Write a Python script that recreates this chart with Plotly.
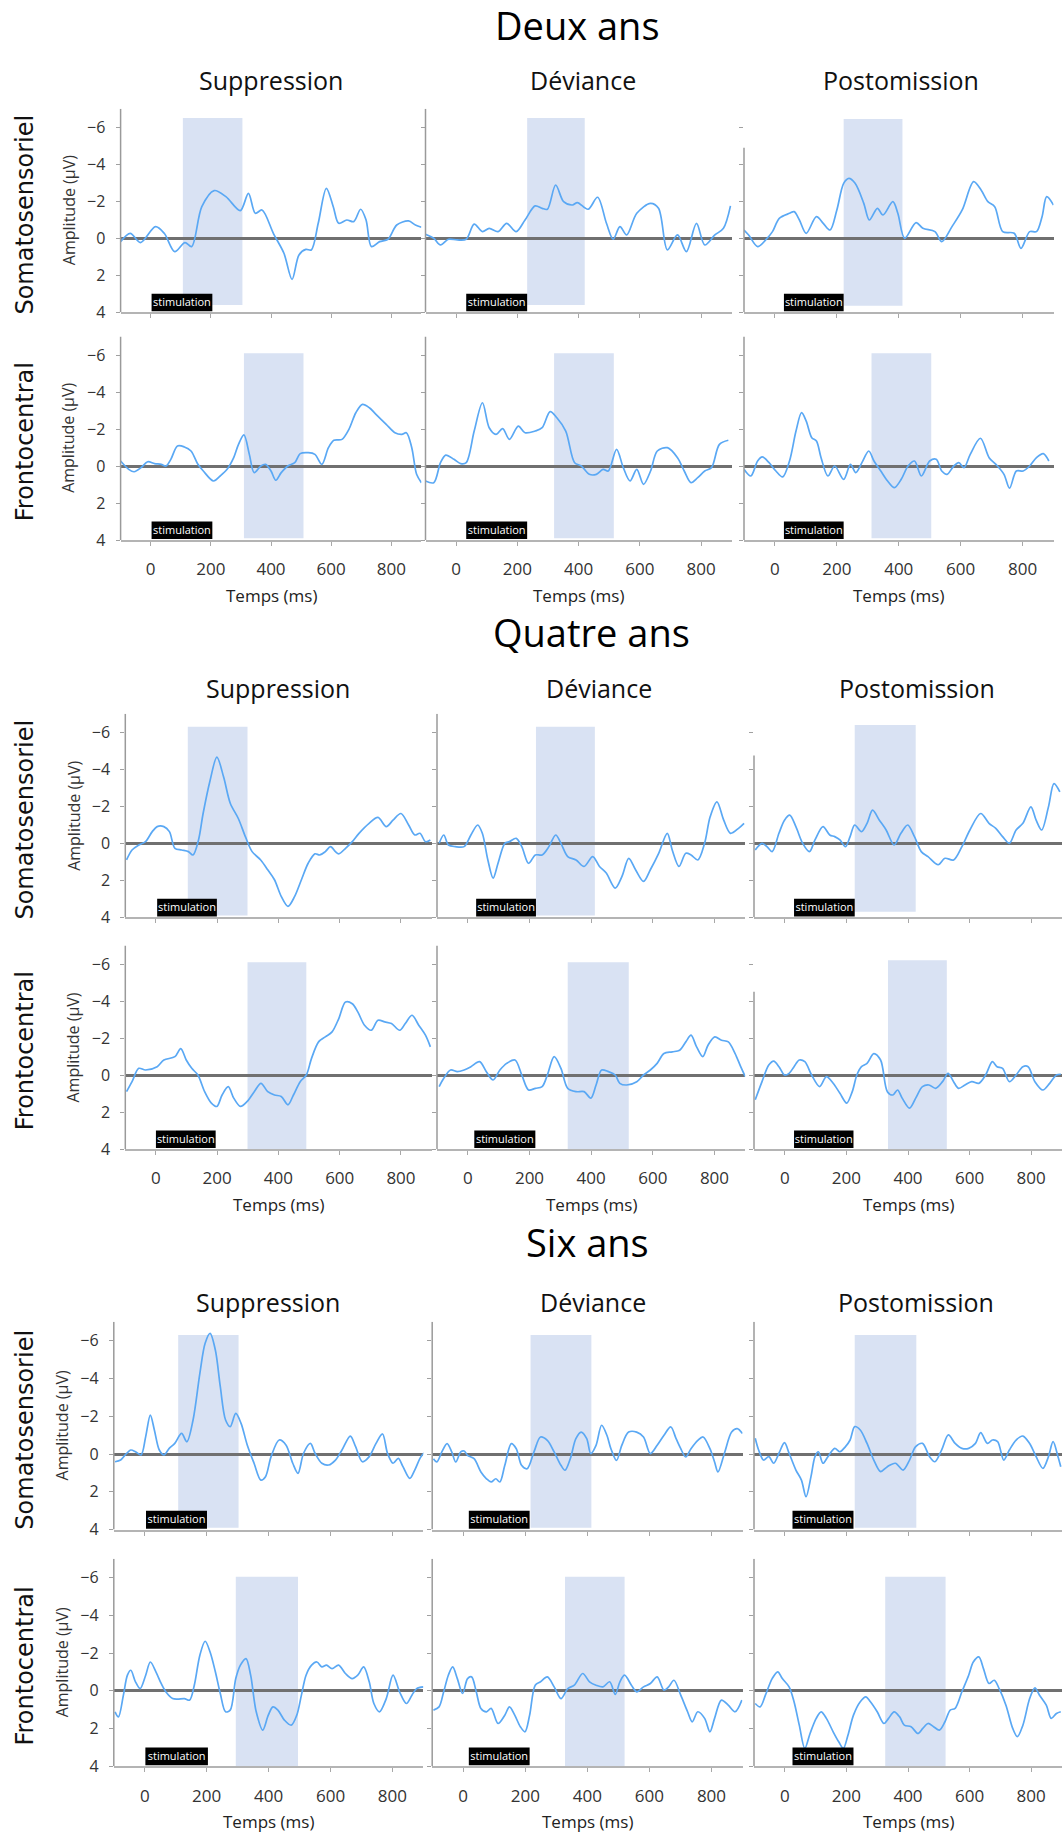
import plotly.graph_objects as go

W, H = 1062, 1832

ages = ["Deux ans", "Quatre ans", "Six ans"]
conditions = ["Suppression", "Déviance", "Postomission"]
regions = ["Somatosensoriel", "Frontocentral"]
x_ticks = [0, 200, 400, 600, 800]
y_ticks = [-6, -4, -2, 0, 2, 4]
stim_label = "stimulation"
x_title = "Temps (ms)"
y_title = "Amplitude (µV)"

# ---------------- Deux ans ----------------
t_2_soma_sup = [-100, -68, -34, 16, 45, 80, 114, 136, 170, 211, 250, 298, 325, 348, 370, 409, 443, 470, 493, 516, 534, 557, 584, 607, 625, 652, 675, 698, 716, 734, 761, 789, 818, 857, 880, 900]
v_2_soma_sup = [0.18, -0.27, 0.23, -0.63, -0.27, 0.72, 0.23, 0.45, -1.71, -2.58, -2.25, -1.5, -2.43, -1.35, -1.53, -0.23, 0.81, 2.22, 0.9, 0.6, 0.63, -0.81, -2.7, -1.71, -0.81, -0.99, -0.9, -1.57, -0.99, 0.45, 0.18, 0.05, -0.72, -0.94, -0.72, -0.6]
t_2_soma_dev = [-100, -73, -51, -25, 4, 33, 59, 86, 108, 137, 165, 196, 225, 258, 281, 298, 325, 351, 380, 396, 431, 462, 491, 513, 535, 557, 590, 635, 661, 690, 723, 752, 785, 812, 845, 873, 896]
v_2_soma_dev = [-0.22, 0, 0.36, 0.05, 0.09, 0.05, -0.77, -0.36, -0.54, -0.36, -0.81, -0.36, -0.99, -1.75, -1.62, -1.57, -2.88, -1.98, -1.8, -1.93, -1.57, -2.22, -0.81, 0.05, -0.63, -0.18, -1.35, -1.89, -1.62, 0.63, -0.18, 0.72, -0.81, 0.36, -0.18, -0.54, -1.75]
t_2_soma_post = [-100, -85, -56, -30, -8, 14, 47, 62, 79, 101, 134, 156, 178, 200, 222, 239, 259, 287, 305, 331, 349, 381, 397, 419, 456, 478, 517, 539, 572, 605, 642, 666, 688, 710, 736, 773, 795, 823, 845, 863, 878, 900]
v_2_soma_post = [-0.45, -0.18, 0.45, 0.09, -0.36, -1.08, -1.35, -1.44, -0.99, -0.27, -1.17, -0.81, -0.45, -1.53, -2.97, -3.24, -2.97, -1.89, -0.99, -1.62, -1.26, -1.98, -1.35, 0, -0.85, -0.54, -0.36, 0.18, -0.63, -1.53, -3.06, -2.61, -1.98, -1.71, -0.36, -0.27, 0.54, -0.36, -0.36, -1.17, -2.25, -1.8]
t_2_fronto_sup = [-100, -73, -55, -32, -10, 13, 35, 51, 67, 89, 112, 134, 157, 175, 209, 231, 254, 276, 292, 310, 328, 344, 366, 382, 400, 416, 434, 456, 479, 497, 524, 546, 569, 591, 609, 636, 659, 682, 704, 727, 749, 783, 812, 835, 850, 868, 884, 900]
v_2_fronto_sup = [-0.27, 0.18, 0.31, 0.09, -0.23, -0.13, -0.09, 0, -0.36, -1.08, -1.03, -0.81, -0.09, 0.27, 0.81, 0.54, 0.18, -0.45, -1.17, -1.68, -0.63, 0.36, 0, -0.09, 0.27, 0.77, 0.36, 0, -0.18, -0.67, -0.72, -0.63, -0.09, -0.99, -1.39, -1.44, -1.98, -2.88, -3.33, -3.15, -2.79, -2.25, -1.8, -1.71, -1.8, -0.99, 0.45, 0.9]
t_2_fronto_dev = [-100, -73, -51, -34, -7, 15, 33, 59, 86, 108, 130, 152, 174, 203, 225, 258, 281, 307, 329, 358, 387, 409, 435, 458, 480, 497, 524, 546, 568, 590, 612, 635, 657, 690, 723, 745, 767, 789, 812, 834, 860, 889]
v_2_fronto_dev = [0.81, 0.9, -0.18, -0.59, -0.36, -0.13, -0.18, -1.89, -3.42, -2.07, -1.71, -2.02, -1.44, -2.16, -1.8, -1.89, -2.07, -2.94, -2.61, -1.89, -0.18, 0, 0.45, 0.45, 0.18, 0.27, -0.9, 0.09, 0.81, 0.18, 0.99, 0.27, -0.81, -0.99, -0.45, 0.27, 0.9, 0.63, 0.27, 0.09, -1.17, -1.39]
t_2_fronto_post = [-100, -78, -56, -41, -19, 3, 25, 47, 68, 86, 101, 119, 134, 149, 171, 193, 222, 244, 261, 281, 303, 320, 342, 364, 386, 408, 430, 451, 473, 500, 521, 539, 556, 578, 594, 611, 631, 664, 692, 714, 740, 758, 780, 802, 823, 845, 867, 885]
v_2_fronto_post = [0.18, 0.54, -0.27, -0.49, -0.18, 0.27, 0.59, -0.27, -1.89, -2.88, -2.43, -1.53, -1.35, -0.45, 0.54, 0, 0.72, -0.09, 0.36, -0.18, -0.81, -0.27, 0.27, 0.81, 1.17, 0.72, 0, -0.27, 0.54, -0.27, -0.36, 0.27, 0.45, 0, -0.18, 0.09, -0.63, -1.5, -0.45, -0.09, 0.45, 1.2, 0.27, 0.27, 0, -0.45, -0.67, -0.27]

# ---------------- Quatre ans ----------------
t_4_soma_sup = [-96, -78, -56, -34, -12, 4, 26, 44, 62, 84, 106, 121, 139, 154, 177, 199, 221, 243, 269, 292, 314, 342, 365, 387, 409, 431, 453, 475, 497, 519, 535, 553, 570, 586, 597, 619, 641, 663, 696, 725, 752, 774, 800, 825, 845, 862, 880, 896]
v_4_soma_sup = [0.9, 0.36, 0.09, -0.09, -0.63, -0.9, -0.9, -0.63, 0.27, 0.36, 0.45, 0.63, -0.18, -1.61, -3.41, -4.66, -3.58, -2.15, -1.34, -0.36, 0.45, 0.9, 1.43, 1.97, 2.87, 3.41, 2.87, 1.97, 1.08, 0.57, 0.63, 0.45, 0.18, 0.45, 0.57, 0.27, -0.09, -0.54, -1.08, -1.4, -0.9, -1.25, -1.61, -0.99, -0.45, -0.54, -0.09, -0.18]
t_4_soma_dev = [-93, -78, -63, -41, -12, 10, 32, 47, 65, 82, 98, 120, 135, 157, 175, 197, 219, 241, 263, 285, 302, 324, 351, 377, 405, 427, 449, 478, 500, 522, 544, 570, 592, 619, 647, 663, 685, 707, 724, 746, 768, 786, 808, 830, 852, 878, 896]
v_4_soma_dev = [0, -0.45, 0.09, 0.18, 0.18, -0.45, -0.99, -0.54, 0.9, 1.88, 1.08, 0, -0.09, -0.27, 0.18, 1.08, 0.63, 0.63, 0.18, -0.45, 0, 0.72, 0.9, 1.25, 0.72, 1.25, 1.61, 2.42, 1.79, 0.81, 1.43, 2.06, 1.43, 0.54, -0.54, 0.36, 1.25, 0.54, 0.63, 0.9, 0, -1.43, -2.24, -1.25, -0.54, -0.81, -1.08]
t_4_soma_post = [-96, -74, -58, -41, -19, -1, 16, 36, 58, 80, 98, 124, 146, 162, 179, 197, 212, 227, 249, 267, 285, 307, 329, 355, 377, 399, 421, 443, 465, 498, 520, 548, 575, 601, 636, 663, 685, 707, 729, 751, 773, 799, 816, 834, 856, 874, 893]
v_4_soma_post = [0.36, 0, 0.18, 0.45, -0.54, -1.25, -1.52, -0.9, 0, 0.45, -0.18, -0.9, -0.45, -0.36, -0.18, 0.18, -0.36, -0.99, -0.63, -1.08, -1.79, -1.25, -0.72, 0.09, -0.54, -0.99, -0.36, 0.45, 0.72, 1.16, 0.81, 0.9, 0.18, -0.72, -1.61, -1.08, -0.81, -0.36, 0, -0.72, -1.08, -1.97, -1.25, -0.72, -1.97, -3.23, -2.78]
t_4_fronto_sup = [-96, -78, -56, -34, 4, 26, 62, 81, 99, 117, 137, 159, 181, 199, 216, 236, 254, 276, 298, 321, 343, 365, 387, 409, 431, 449, 471, 491, 508, 531, 553, 575, 597, 619, 641, 659, 681, 703, 725, 747, 769, 796, 814, 836, 858, 880, 896]
v_4_fronto_sup = [0.9, 0.36, -0.36, -0.27, -0.45, -0.81, -0.99, -1.43, -0.81, -0.36, 0, 0.9, 1.52, 1.7, 1.08, 0.63, 1.25, 1.7, 1.43, 0.9, 0.45, 0.9, 1.08, 1.16, 1.61, 1.08, 0.36, 0, -0.9, -1.79, -2.06, -2.33, -3.05, -3.94, -3.85, -3.41, -2.69, -2.42, -2.96, -2.87, -2.78, -2.42, -2.78, -3.23, -2.69, -2.15, -1.52]
t_4_fronto_dev = [-93, -78, -56, -34, -12, 10, 38, 60, 82, 104, 126, 153, 175, 197, 219, 241, 258, 280, 302, 324, 351, 377, 399, 416, 434, 456, 478, 493, 515, 548, 570, 592, 614, 636, 663, 687, 707, 724, 742, 762, 779, 801, 823, 845, 867, 885, 900]
v_4_fronto_dev = [0.63, 0.18, -0.27, -0.18, -0.27, -0.45, -0.72, -0.18, 0.27, -0.27, -0.63, -0.81, 0, 0.81, 0.72, 0.63, 0, -0.99, -0.36, 0.72, 0.9, 0.9, 1.25, 0.54, -0.27, -0.18, 0, 0.45, 0.54, 0.36, 0, -0.27, -0.63, -1.16, -1.25, -1.34, -1.79, -2.15, -1.52, -0.99, -1.61, -2.06, -1.88, -1.79, -1.16, -0.45, 0.09]
t_4_fronto_post = [-96, -74, -52, -36, -19, -1, 14, 30, 47, 65, 87, 113, 135, 157, 179, 201, 219, 234, 249, 267, 289, 311, 333, 351, 366, 381, 405, 425, 447, 468, 490, 512, 530, 548, 564, 585, 607, 630, 652, 674, 689, 707, 729, 751, 773, 790, 812, 838, 860, 882, 896]
v_4_fronto_post = [1.34, 0.36, -0.54, -0.75, -0.45, 0, -0.09, -0.45, -0.81, -0.72, 0, 0.63, 0.09, 0.45, 0.99, 1.52, 0.9, 0, -0.45, -0.63, -1.16, -0.81, 0.9, 1.08, 0.81, 1.25, 1.79, 1.25, 0.63, 0.54, 0.72, 0.36, -0.09, 0.36, 0.72, 0.54, 0.36, 0.45, 0, -0.72, -0.45, -0.36, 0.36, 0, -0.45, -0.45, 0.36, 0.81, 0.45, 0, -0.04]

# ---------------- Six ans ----------------
t_6_soma_sup = [-96, -78, -63, -45, -30, -12, 3, 18, 31, 47, 62, 79, 97, 119, 136, 156, 178, 195, 211, 228, 244, 261, 276, 294, 311, 331, 353, 375, 390, 408, 434, 456, 478, 495, 513, 535, 550, 572, 594, 616, 637, 664, 681, 703, 725, 747, 768, 784, 802, 819, 834, 856, 872, 889, 902]
v_6_soma_sup = [0.41, 0.32, 0.05, -0.21, -0.12, 0.05, -0.92, -2.06, -1.27, -0.21, 0.05, -0.3, -0.56, -1.09, -0.65, -1.8, -4.27, -5.86, -6.38, -5.5, -3.56, -1.8, -1.45, -2.15, -1.62, -0.48, 0.49, 1.38, 1.2, 0.14, -0.74, -0.48, 0.49, 1.02, -0.04, -0.56, -0.04, 0.49, 0.58, 0.32, -0.21, -0.95, -0.39, 0.41, 0.14, -0.56, -1.06, -0.04, 0.49, 0.23, 0.67, 1.29, 0.85, 0.23, -0.07]
t_6_soma_dev = [-96, -85, -69, -52, -37, -24, -8, 3, 14, 35, 57, 75, 90, 105, 118, 134, 155, 171, 188, 206, 228, 249, 271, 293, 315, 328, 345, 363, 380, 398, 411, 428, 446, 463, 476, 494, 511, 533, 559, 581, 603, 625, 647, 669, 686, 701, 717, 734, 756, 773, 795, 810, 821, 843, 865, 883, 900]
v_6_soma_dev = [0.25, 0.42, -0.11, -0.55, -0.11, 0.42, -0.11, -0.16, 0.07, 0.25, 0.95, 1.31, 1.48, 1.31, 1.48, 0.6, -0.55, -0.28, 0.6, 0.78, -0.11, -0.9, -0.72, -0.11, 0.6, 0.86, 0.25, -0.81, -1.16, -0.81, -0.02, -0.46, -1.52, -0.99, -0.28, 0.34, -0.46, -1.16, -1.16, -0.9, -0.02, -0.46, -0.99, -1.43, -0.81, -0.28, 0.16, -0.28, -0.72, -0.9, -0.28, 0.42, 0.95, -0.11, -1.16, -1.34, -1.08]
t_6_soma_post = [-96, -85, -69, -52, -36, -19, -1, 14, 36, 54, 69, 85, 98, 109, 124, 140, 162, 179, 197, 212, 227, 245, 267, 289, 311, 333, 359, 384, 405, 425, 447, 470, 487, 509, 531, 553, 575, 597, 619, 636, 658, 674, 691, 711, 729, 751, 773, 795, 816, 838, 856, 871, 887, 896]
v_6_soma_post = [-0.83, -0.21, 0.32, 0.14, 0.49, -0.04, -0.6, -0.04, 0.85, 1.38, 2.26, 1.2, 0.14, -0.12, 0.49, 0.14, -0.3, -0.12, -0.39, -0.74, -1.45, -1.27, -0.56, 0.32, 0.93, 0.67, 0.49, 0.85, 0.32, -0.39, -0.56, 0.14, 0.41, -0.21, -1.01, -0.56, -0.3, -0.3, -0.56, -1.13, -0.56, -0.74, -0.65, 0.32, -0.21, -0.74, -0.95, -0.56, 0.14, 0.76, 0.14, -0.65, 0.14, 0.67]
t_6_fronto_sup = [-96, -85, -69, -56, -45, -30, -15, 3, 18, 36, 53, 68, 90, 106, 128, 145, 160, 178, 195, 211, 228, 244, 261, 276, 294, 309, 327, 342, 360, 381, 399, 414, 430, 451, 473, 491, 506, 521, 539, 556, 572, 587, 605, 626, 648, 670, 688, 707, 725, 740, 758, 780, 802, 823, 845, 863, 878, 900]
v_6_fronto_sup = [1.11, 1.38, 0.23, -0.83, -1.09, -0.48, -0.12, -0.83, -1.53, -1.01, -0.39, 0.05, 0.41, 0.44, 0.41, 0.49, -0.3, -1.89, -2.63, -2.06, -1.01, 0.14, 1.11, 1.02, -0.65, -1.36, -1.71, -0.83, 1.11, 2.08, 1.29, 0.85, 1.02, 1.55, 1.82, 1.29, 0.23, -0.83, -1.36, -1.53, -1.27, -1.36, -1.18, -1.36, -0.92, -0.65, -0.83, -1.27, -0.48, 0.67, 1.11, 0.41, -0.83, 0.05, 0.67, 0.23, -0.12, -0.21]
t_6_fronto_dev = [-96, -78, -63, -48, -34, -19, -2, 14, 27, 42, 57, 75, 90, 112, 134, 149, 166, 184, 199, 214, 232, 249, 271, 293, 315, 337, 358, 385, 407, 428, 450, 472, 490, 505, 520, 542, 559, 581, 603, 625, 647, 662, 679, 701, 723, 738, 756, 778, 795, 810, 832, 854, 876, 898]
v_6_fronto_dev = [1.02, 0.85, 0.05, -0.83, -1.27, -0.65, 0.14, -0.65, -0.74, 0.05, 0.93, 1.11, 0.93, 1.73, 1.29, 0.85, 1.29, 1.9, 2.17, 1.29, -0.3, -0.48, -0.74, -0.21, 0.41, -0.12, -0.3, -0.92, -0.48, -0.3, -0.21, -0.48, 0.19, -0.48, -0.83, -0.3, 0.05, -0.21, -0.39, -0.74, -0.04, -0.21, -0.56, 0.23, 1.11, 1.64, 1.11, 1.46, 2.17, 1.46, 0.49, 0.76, 1.11, 0.49]
t_6_fronto_post = [-96, -80, -63, -41, -23, -8, 14, 30, 47, 65, 82, 102, 118, 135, 157, 175, 190, 205, 223, 245, 263, 278, 300, 322, 337, 355, 373, 388, 410, 432, 448, 465, 483, 502, 520, 537, 553, 575, 597, 612, 630, 645, 663, 680, 696, 718, 740, 755, 773, 795, 812, 827, 849, 865, 882, 896]
v_6_fronto_post = [0.67, 0.85, 0.23, -0.65, -1.01, -0.65, -0.21, 0.58, 1.82, 3.05, 2.26, 1.46, 1.11, 1.46, 2.17, 2.7, 3.05, 2.35, 1.29, 0.58, 0.32, 0.58, 1.11, 1.73, 1.46, 1.11, 1.38, 1.82, 1.9, 2.26, 1.99, 1.73, 1.9, 2.08, 1.64, 1.02, 0.93, 0.05, -0.83, -1.53, -1.8, -1.18, -0.39, -0.56, -0.12, 0.76, 1.99, 2.43, 1.82, 0.41, -0.16, 0.23, 0.76, 1.46, 1.2, 1.11]

# analysis windows (ms) shaded in each panel [age][region][condition]
window_ms = [
    [[(107, 305), (232, 420), (222, 412)], [(310, 508), (320, 515), (312, 505)]],
    [[(104, 299), (221, 412), (227, 425)], [(299, 491), (324, 522), (335, 526)]],
    [[(108, 303), (217, 413), (227, 427)], [(294, 495), (328, 520), (326, 522)]],
]
# vertical extent of the shaded windows (µV)
window_uv = [
    [[(-6.5, 3.6), (-6.5, 3.6), (-6.45, 3.65)], [(-6.1, 3.9), (-6.1, 3.9), (-6.1, 3.9)]],
    [[(-6.3, 3.9), (-6.3, 3.9), (-6.4, 3.7)], [(-6.1, 4.0), (-6.1, 4.0), (-6.2, 4.0)]],
    [[(-6.3, 3.9), (-6.3, 3.9), (-6.3, 3.9)], [(-6.05, 4.0), (-6.05, 4.0), (-6.05, 4.0)]],
]
# stimulation marker (ms)
stim_ms = [
    [[(3, 205), (33, 232), (29, 222)], [(3, 205), (33, 232), (29, 222)]],
    [[(4, 199), (27, 221), (30, 227)], [(0, 195), (21, 219), (30, 223)]],
    [[(4, 201), (18, 214), (25, 223)], [(2, 204), (18, 214), (25, 223)]],
]
# top of the drawn y-axis line (µV)
axis_top = [
    [[-7, -7, -4.9], [-7, -7, -7]],
    [[-7, -7, -4.75], [-7, -7, -4.5]],
    [[-7, -7, -7], [-7, -7, -7]],
]

curves = [
    [[(t_2_soma_sup, v_2_soma_sup), (t_2_soma_dev, v_2_soma_dev), (t_2_soma_post, v_2_soma_post)],
     [(t_2_fronto_sup, v_2_fronto_sup), (t_2_fronto_dev, v_2_fronto_dev), (t_2_fronto_post, v_2_fronto_post)]],
    [[(t_4_soma_sup, v_4_soma_sup), (t_4_soma_dev, v_4_soma_dev), (t_4_soma_post, v_4_soma_post)],
     [(t_4_fronto_sup, v_4_fronto_sup), (t_4_fronto_dev, v_4_fronto_dev), (t_4_fronto_post, v_4_fronto_post)]],
    [[(t_6_soma_sup, v_6_soma_sup), (t_6_soma_dev, v_6_soma_dev), (t_6_soma_post, v_6_soma_post)],
     [(t_6_fronto_sup, v_6_fronto_sup), (t_6_fronto_dev, v_6_fronto_dev), (t_6_fronto_post, v_6_fronto_post)]],
]

# ---------------- layout geometry (pixels) ----------------
COLS_PX = [
    [(120.6, 421.4), (425.5, 731.7), (744, 1053.5)],
    [(125.3, 431.6), (437, 745.3), (754, 1062)],
    [(113.8, 423.4), (432.2, 742.5), (754, 1062)],
]
ROWS_PX = [
    [(108.8, 312.3), (336.5, 540)],
    [(713.8, 917.3), (945.5, 1149)],
    [(1321.7, 1529.6), (1558.8, 1766.3)],
]
TITLE_XY = [(577, 25), (591, 632), (587, 1242)]
COLTITLE_Y = [80, 688, 1302]
COLTITLE_X = [[271, 583, 901], [278, 599, 917], [268, 593, 916]]

CURVE = "#5aa8f4"
SHADE = "#d9e2f3"
FONT = "Open Sans"


def px(x):
    return x / W


def py(y):
    return 1 - y / H


fig = go.Figure()
shapes = []
annotations = []

n = 0
for a in range(3):
    tx, ty = TITLE_XY[a]
    annotations.append(dict(text=ages[a], x=px(tx), y=py(ty), xref="paper", yref="paper",
                            showarrow=False, xanchor="center", yanchor="middle",
                            font=dict(family=FONT, size=38, color="#000")))
    for c in range(3):
        annotations.append(dict(text=conditions[c], x=px(COLTITLE_X[a][c]), y=py(COLTITLE_Y[a]),
                                xref="paper", yref="paper", showarrow=False,
                                xanchor="center", yanchor="middle",
                                font=dict(family=FONT, size=25, color="#111")))
    for r in range(2):
        top, bot = ROWS_PX[a][r]
        annotations.append(dict(text=regions[r], x=px(25), y=py((top + bot) / 2 + 4),
                                xref="paper", yref="paper", showarrow=False, textangle=-90,
                                xanchor="center", yanchor="middle",
                                font=dict(family="DejaVu Sans", size=24, color="#111")))
        annotations.append(dict(text=y_title, x=px(COLS_PX[a][0][0] - 52), y=py((top + bot) / 2),
                                xref="paper", yref="paper", showarrow=False, textangle=-90,
                                xanchor="center", yanchor="middle",
                                font=dict(family=FONT, size=16, color="#333")))
        for c in range(3):
            n += 1
            xa = "x" if n == 1 else f"x{n}"
            ya = "y" if n == 1 else f"y{n}"
            xkey = "xaxis" if n == 1 else f"xaxis{n}"
            ykey = "yaxis" if n == 1 else f"yaxis{n}"
            t, v = curves[a][r][c]
            m = min(len(t), len(v))
            fig.add_trace(go.Scatter(x=t[:m], y=v[:m], xaxis=xa, yaxis=ya, mode="lines",
                                     line=dict(color=CURVE, width=1.7, shape="spline", smoothing=0.9),
                                     hoverinfo="skip", showlegend=False))
            l, rr = COLS_PX[a][c]
            fig.update_layout(**{
                xkey: dict(domain=[px(l), min(1.0, px(rr))], range=[-100, 900], anchor=ya,
                           tickvals=x_ticks, ticks="outside", ticklen=4, tickwidth=1,
                           tickcolor="#a8a8a8", showline=True, linecolor="#b4b4b4", linewidth=2,
                           showgrid=False, zeroline=False, showticklabels=(r == 1),
                           tickfont=dict(family=FONT, size=17, color="#333"),
                           ticklabelstandoff=9, fixedrange=True),
                ykey: dict(domain=[py(bot), py(top)], range=[4, -7], anchor=xa,
                           tickvals=y_ticks, ticks="outside", ticklen=4, tickwidth=1,
                           tickcolor="#a0a0a0", showline=False, showgrid=False,
                           zeroline=True, zerolinecolor="#707070", zerolinewidth=2.5,
                           showticklabels=(c == 0),
                           tickfont=dict(family=FONT, size=16, color="#333"),
                           ticklabelstandoff=7, fixedrange=True),
            })
            w0, w1 = window_ms[a][r][c]
            u0, u1 = window_uv[a][r][c]
            shapes.append(dict(type="rect", xref=xa, yref=ya, x0=w0, x1=w1, y0=u0, y1=u1,
                               fillcolor=SHADE, line=dict(width=0), layer="below"))
            s0, s1 = stim_ms[a][r][c]
            shapes.append(dict(type="rect", xref=xa, yref=ya, x0=s0, x1=s1, y0=3.0, y1=3.95,
                               fillcolor="#000", line=dict(width=0), layer="above",
                               label=dict(text=stim_label, textposition="middle center",
                                          font=dict(family=FONT, size=11, color="#fff"))))
            shapes.append(dict(type="line", xref=f"{xa} domain", yref=ya, x0=0, x1=0,
                               y0=axis_top[a][r][c], y1=4, line=dict(color="#9a9a9a", width=1.5),
                               layer="above"))
            if r == 1:
                annotations.append(dict(text=x_title, x=px((l + min(rr, W)) / 2), y=py(bot + 55),
                                        xref="paper", yref="paper", showarrow=False,
                                        xanchor="center", yanchor="middle",
                                        font=dict(family=FONT, size=17, color="#222")))

fig.update_layout(width=W, height=H, margin=dict(l=0, r=0, t=0, b=0),
                  paper_bgcolor="white", plot_bgcolor="white", template="none",
                  showlegend=False, shapes=shapes, annotations=annotations,
                  font=dict(family=FONT, color="#222"))

fig.write_html("out.html", config={"displayModeBar": False},
               post_script="document.body.style.margin='0';document.body.style.overflow='hidden';")
